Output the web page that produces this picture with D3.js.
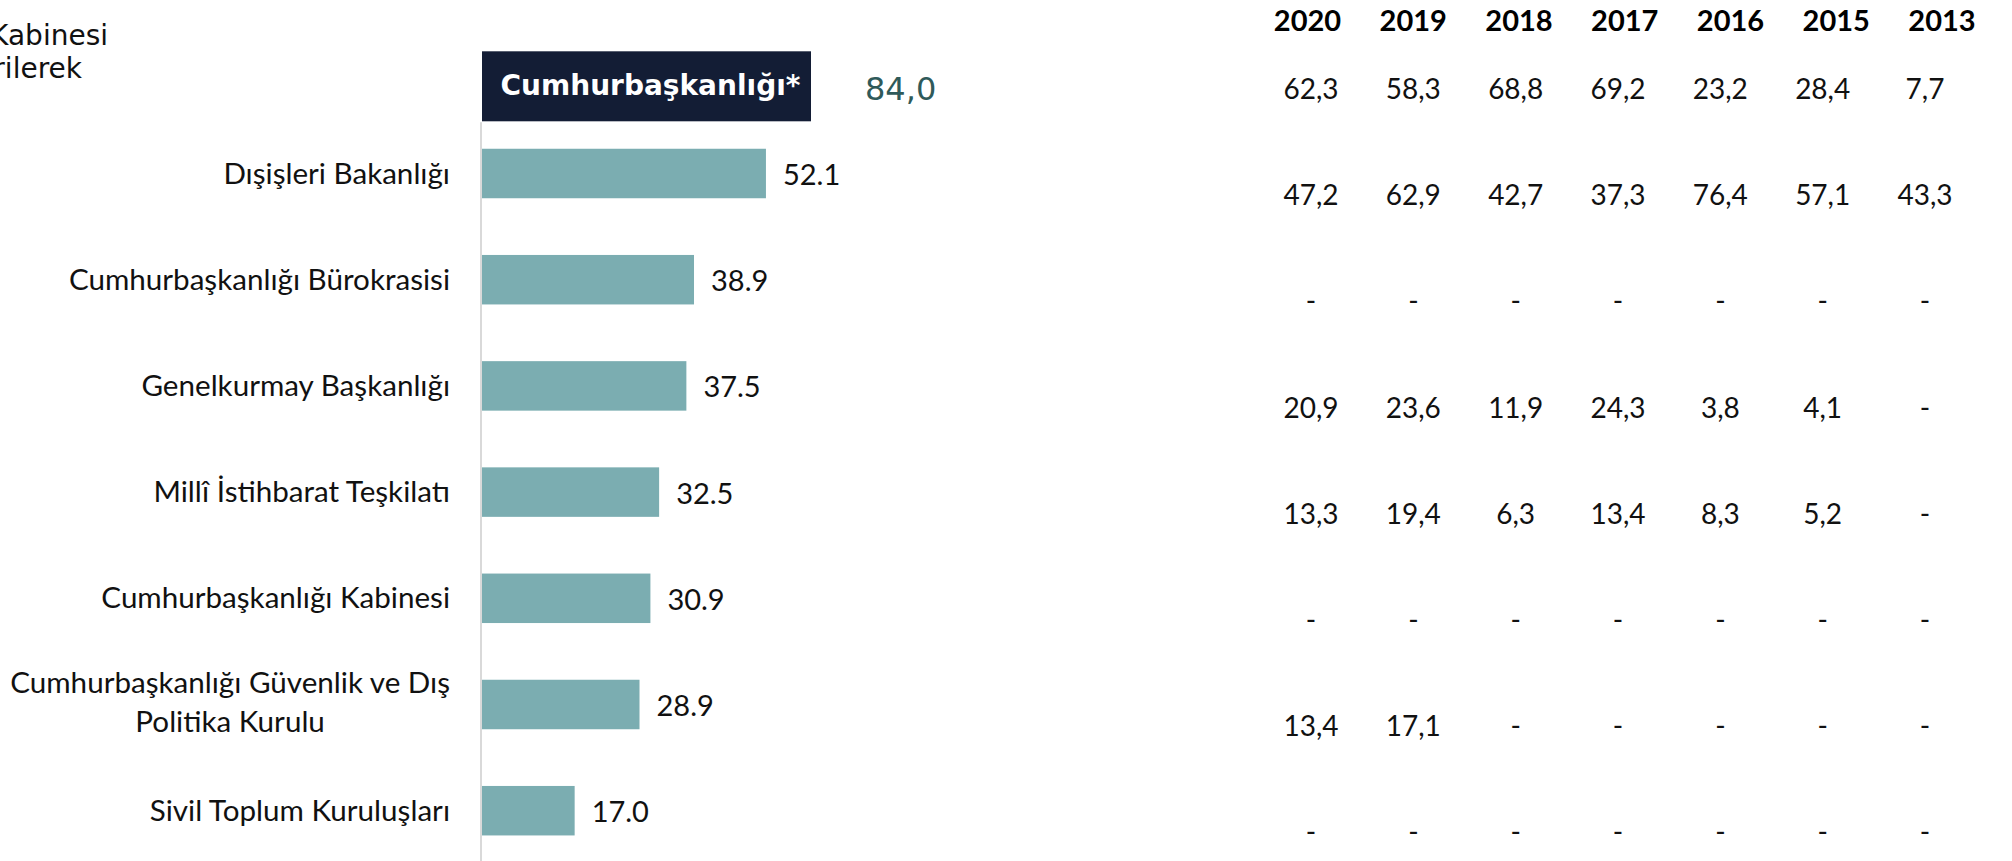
<!DOCTYPE html>
<html>
<head>
<meta charset="utf-8">
<script src="https://cdn.jsdelivr.net/npm/d3@7"></script>
<style>
  html, body { margin: 0; padding: 0; background: #ffffff; overflow: hidden; }
  svg { display: block; }
</style>
</head>
<body>
<svg id="chart" width="2012" height="861"></svg>
<script>
// ---------------- DATA ----------------
const topLabel = "Cumhurbaşkanlığı*";
const topValueText = "84,0";
const categories = [
  "Dışişleri Bakanlığı",
  "Cumhurbaşkanlığı Bürokrasisi",
  "Genelkurmay Başkanlığı",
  "Millî İstihbarat Teşkilatı",
  "Cumhurbaşkanlığı Kabinesi",
  "Cumhurbaşkanlığı Güvenlik ve Dış Politika Kurulu",
  "Sivil Toplum Kuruluşları"
];
const categoryLines = [
  ["Dışişleri Bakanlığı"],
  ["Cumhurbaşkanlığı Bürokrasisi"],
  ["Genelkurmay Başkanlığı"],
  ["Millî İstihbarat Teşkilatı"],
  ["Cumhurbaşkanlığı Kabinesi"],
  ["Cumhurbaşkanlığı Güvenlik ve Dış", "Politika Kurulu"],
  ["Sivil Toplum Kuruluşları"]
];
const values = [52.1, 38.9, 37.5, 32.5, 30.9, 28.9, 17.0];
const years = ["2020", "2019", "2018", "2017", "2016", "2015", "2013"];
const rowTop        = [62.3, 58.3, 68.8, 69.2, 23.2, 28.4, 7.7];
const rowDisisleri  = [47.2, 62.9, 42.7, 37.3, 76.4, 57.1, 43.3];
const rowBurokrasi  = [null, null, null, null, null, null, null];
const rowGenelkurmay= [20.9, 23.6, 11.9, 24.3, 3.8, 4.1, null];
const rowMit        = [13.3, 19.4, 6.3, 13.4, 8.3, 5.2, null];
const rowKabine     = [null, null, null, null, null, null, null];
const rowGuvenlik   = [13.4, 17.1, null, null, null, null, null];
const rowStk        = [null, null, null, null, null, null, null];
const noteLines = ["Kabinesi", "rilerek"];

// ---------------- SETUP ----------------
const tableRows = [rowTop, rowDisisleri, rowBurokrasi, rowGenelkurmay, rowMit, rowKabine, rowGuvenlik, rowStk];
const allRows = [topLabel, ...categories];

const svg = d3.select("#chart");
const labelFont = "Lato, 'Open Sans', sans-serif";

const x = d3.scaleLinear().domain([0, 100]).range([482, 1027]);
const y = d3.scaleBand().domain(allRows).range([14.2, 863.8])
  .paddingInner(0.534).paddingOuter(0.267);
const yc = d => y(d) + y.bandwidth() / 2;

const colVal = d3.scalePoint().domain(years).range([1311, 1925]);
const colHead = d3.scalePoint().domain(years).range([1307.5, 1942]);

const fmtTable = v => v == null ? "-" : d3.format(".1f")(v).replace(".", ",");
const fmtBar = d3.format(".1f");

// note text at top-left (partially cut off at the left edge)
svg.append("g").selectAll("text").data(noteLines).join("text")
  .attr("x", (d, i) => i === 0 ? 108 : 82)
  .attr("y", (d, i) => 45 + i * 33)
  .attr("text-anchor", "end")
  .style("font-family", "'DejaVu Sans', Verdana, sans-serif")
  .style("font-size", "28px")
  .attr("fill", "#111")
  .text(d => d);

// axis line
const boxTop = yc(topLabel) - 16;
const boxH = 70;
svg.append("line")
  .attr("x1", x(0) - 1).attr("x2", x(0) - 1)
  .attr("y1", boxTop + boxH + 1).attr("y2", 861)
  .attr("stroke", "#d9d9d9").attr("stroke-width", 2);

// top highlighted box
const boxW = 329;
svg.append("rect")
  .attr("x", x(0)).attr("y", boxTop)
  .attr("width", boxW).attr("height", boxH)
  .attr("fill", "#131d35");
svg.append("text")
  .attr("x", x(0) + boxW / 2 + 4)
  .attr("y", boxTop + 44)
  .attr("text-anchor", "middle")
  .style("font-family", "'DejaVu Sans', Verdana, sans-serif")
  .style("font-weight", "bold")
  .style("font-size", "28px")
  .attr("fill", "#ffffff")
  .text(topLabel);
svg.append("text")
  .attr("x", x(0) + boxW + 54)
  .attr("y", boxTop + 49)
  .style("font-family", "'DejaVu Sans', Verdana, sans-serif")
  .style("font-size", "32px")
  .attr("fill", "#2f5a5a")
  .text(topValueText);

// bars
svg.append("g").selectAll("rect").data(categories).join("rect")
  .attr("x", x(0))
  .attr("y", d => y(d))
  .attr("width", (d, i) => x(values[i]) - x(0))
  .attr("height", y.bandwidth())
  .attr("fill", "#7badb1");

// bar value labels
svg.append("g").selectAll("text").data(categories).join("text")
  .attr("x", (d, i) => x(values[i]) + 17)
  .attr("y", d => yc(d) + 11.5)
  .style("font-family", labelFont)
  .style("font-size", "29px")
  .attr("fill", "#111")
  .text((d, i) => fmtBar(values[i]));

// category labels
const labelSize = "29.6px";
const labelG = svg.append("g");
categories.forEach((c, i) => {
  const lines = categoryLines[i];
  const t = labelG.append("text")
    .style("font-family", labelFont)
    .style("font-size", labelSize)
    .attr("fill", "#111");
  if (lines.length === 1) {
    t.attr("x", 450).attr("y", yc(c) + 10).attr("text-anchor", "end").text(lines[0]);
  } else {
    const tmp = labelG.append("text").style("font-family", labelFont).style("font-size", labelSize).text(lines[0]);
    const w = tmp.node().getComputedTextLength();
    tmp.remove();
    const cx = 450 - w / 2;
    t.attr("text-anchor", "middle");
    lines.forEach((ln, j) => {
      t.append("tspan").attr("x", cx).attr("y", yc(c) - 11.2 + j * 38.4).text(ln);
    });
  }
});

// table header
svg.append("g").selectAll("text").data(years).join("text")
  .attr("x", d => colHead(d))
  .attr("y", 31)
  .attr("text-anchor", "middle")
  .style("font-family", labelFont)
  .style("font-weight", "bold")
  .style("font-size", "29px")
  .attr("fill", "#000")
  .text(d => d);

// table values
const tg = svg.append("g");
allRows.forEach((r, ri) => {
  tg.append("g").selectAll("text").data(tableRows[ri]).join("text")
    .attr("x", (d, ci) => colVal(years[ci]))
    .attr("y", yc(r) + 31.7)
    .attr("text-anchor", "middle")
    .style("font-family", labelFont)
    .style("font-size", "28px")
    .attr("fill", "#111")
    .text(d => fmtTable(d));
});
</script>
</body>
</html>
